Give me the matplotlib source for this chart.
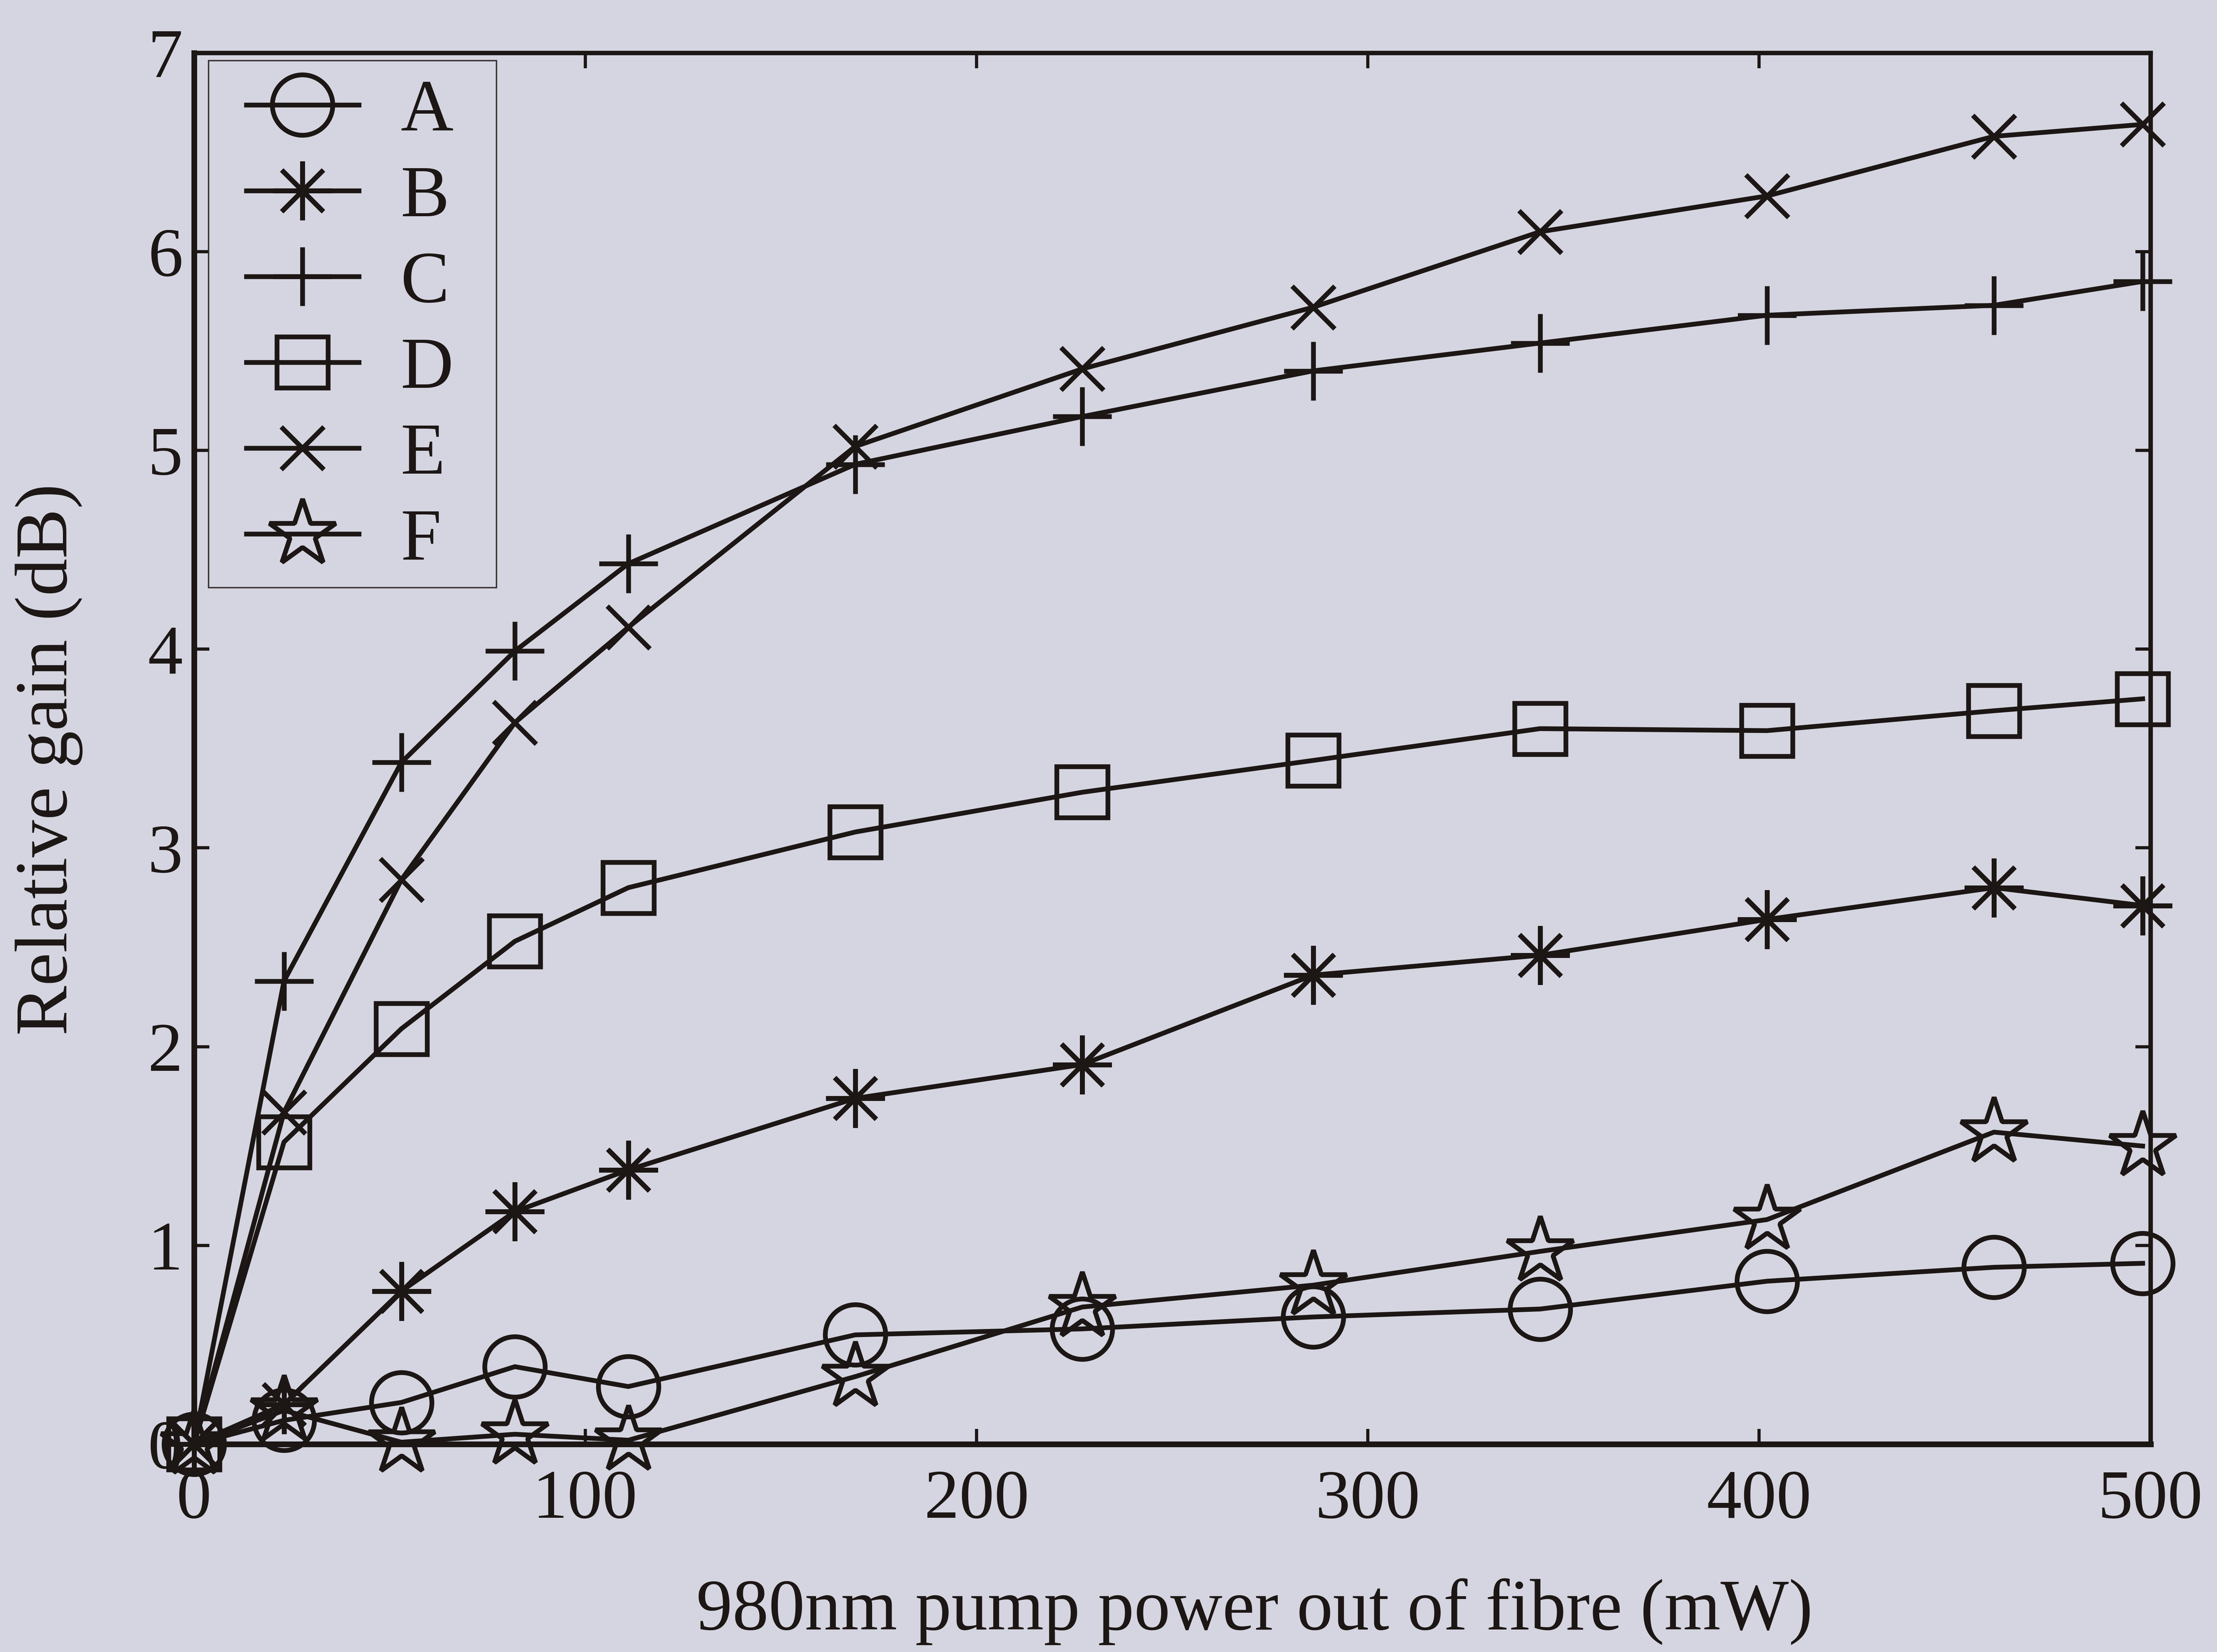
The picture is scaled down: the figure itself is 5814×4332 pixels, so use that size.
import matplotlib
matplotlib.use("Agg")
import matplotlib.pyplot as plt
from matplotlib.patches import Rectangle

# pump power (mW) and relative gain (dB)
pump_mw = [0, 23, 53, 82, 111, 169, 227, 286, 344, 402, 460, 498]
gain_a = [0, 0.12, 0.21, 0.39, 0.29, 0.55, 0.58, 0.64, 0.68, 0.82, 0.89, 0.91]
gain_b = [0, 0.20, 0.77, 1.17, 1.38, 1.74, 1.91, 2.36, 2.46, 2.64, 2.80, 2.71]
gain_c = [0, 2.33, 3.43, 3.99, 4.43, 4.93, 5.17, 5.40, 5.54, 5.68, 5.73, 5.85]
gain_d = [0, 1.52, 2.09, 2.53, 2.80, 3.08, 3.28, 3.44, 3.60, 3.59, 3.69, 3.75]
gain_e = [0, 1.67, 2.84, 3.63, 4.11, 5.02, 5.41, 5.72, 6.10, 6.28, 6.58, 6.64]
gain_f = [0, 0.17, 0.01, 0.05, 0.02, 0.34, 0.69, 0.80, 0.97, 1.13, 1.57, 1.50]
labels = ["A", "B", "C", "D", "E", "F"]
x_ticks = [0, 100, 200, 300, 400, 500]
y_ticks = [0, 1, 2, 3, 4, 5, 6, 7]

INK = "#1c1614"
PAPER = "#d5d5e1"
plt.rcParams["font.family"] = ["Liberation Serif", "DejaVu Serif"]

series = [gain_a, gain_b, gain_c, gain_d, gain_e, gain_f]
styles = [("o", 38), ((8, 2, 0), 37), ("+", 37), ("s", 32), ("x", 27), ("*", 44)]

fig = plt.figure(figsize=(19.38, 14.44), dpi=300, facecolor=PAPER)
ax = fig.add_axes([0.0875, 0.1258, 0.8825, 0.8422], facecolor=PAPER)

handles = []
for ys, (mk, ms), lab in zip(series, styles, labels):
    h, = ax.plot(pump_mw, ys, color=INK, lw=3.0, marker=mk, markersize=ms,
                 markerfacecolor="none", markeredgecolor=INK, markeredgewidth=3.0,
                 clip_on=False, label=lab, zorder=3)
    handles.append(h)

ax.set_xlim(0, 500)
ax.set_ylim(0, 7)
ax.set_xticks(x_ticks)
ax.set_yticks(y_ticks)
ax.tick_params(direction="in", length=9.6, width=2.0, color=INK, labelcolor=INK,
               labelsize=44, top=True, right=True)
ax.tick_params(axis="x", pad=16)
ax.tick_params(axis="y", pad=7)
for side, sp in ax.spines.items():
    sp.set_color(INK)
    sp.set_linewidth(3.6 if side in ("left", "bottom") else 2.8)

ax.set_xlabel("980nm pump power out of fibre (mW)", fontsize=45.5, color=INK, va="center")
ax.xaxis.set_label_coords(0.542, -0.1205)
ax.set_ylabel("Relative gain (dB)", fontsize=47, color=INK, va="center")
ax.yaxis.set_label_coords(-0.074, 0.492)

# legend: frame drawn separately so the padding can match the original
leg = ax.legend(handles=handles, loc="upper left", bbox_to_anchor=(0.0267, 0.981),
                frameon=False, borderpad=0, borderaxespad=0, fontsize=46,
                handlelength=1.54, handletextpad=0.57, labelspacing=0.26)
for t in leg.get_texts():
    t.set_color(INK)
ax.add_patch(Rectangle((0.0074, 0.6156), 0.1473, 0.3789, transform=ax.transAxes,
                       fill=False, edgecolor="#3a3434", lw=0.9, zorder=4))

fig.savefig("out.png", dpi=300, facecolor=PAPER)
